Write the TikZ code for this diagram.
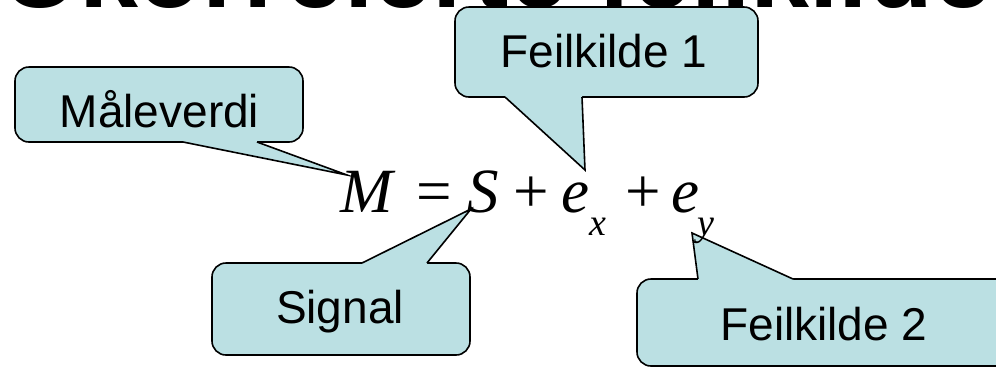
\documentclass[tikz,border=0pt]{standalone}
\usepackage{fontspec}
\setmainfont{Liberation Sans}
\newfontfamily\eqserif{Liberation Serif}
\usepackage{xcolor}
\definecolor{accent}{RGB}{187,224,227}
\usetikzlibrary{calc}
\tikzset{
  bubble/.style={draw=black,line width=1.6pt,rounded corners=14pt,fill=accent,%
    inner sep=0pt,outer sep=0pt},
  bubbletext/.style={font=\fontsize{46}{50}\selectfont,inner sep=0pt,anchor=base},
  tail/.style={draw=black,line width=1.6pt,line join=miter,miter limit=25},
  eqsym/.style={font=\eqserif\fontsize{63}{66}\selectfont,inner sep=0pt,anchor=base west},
  eqvar/.style={eqsym,font=\eqserif\itshape\fontsize{63}{66}\selectfont},
  eqsub/.style={eqsym,font=\eqserif\itshape\fontsize{38}{40}\selectfont},
}
\begin{document}
\begin{tikzpicture}[x=1pt,y=-1pt]
\clip (0,0) rectangle (996,368);
% title, only its lower edge is inside the frame
\node[font=\fontsize{106}{110}\selectfont\bfseries,inner sep=0pt,anchor=base west] (title) at (2.3,7.5) {Ukorrelerte feilkilder};

% tips of the callouts
\coordinate (tM) at (347,175);
\coordinate (t1) at (585,170);
\coordinate (tS) at (471,209);
\coordinate (t2) at (692,233);

% Maaleverdi
\node[bubble,minimum width=288pt,minimum height=75pt] (maal) at (159,104.5) {};
\fill[accent] ($(maal.south west)+(168,-2)$) -- ($(maal.south west)+(168,0)$) -- (tM)
  -- ($(maal.south west)+(242,0)$) -- ($(maal.south west)+(242,-2)$) -- cycle;
\draw[tail] ($(maal.south west)+(168,0)$) -- (tM) -- ($(maal.south west)+(242,0)$);
\node[bubbletext] (maaltxt) at (159.5,127) {Måleverdi};

% Feilkilde 1
\node[bubble,minimum width=303pt,minimum height=90pt] (feil1) at (606.5,52) {};
\fill[accent] ($(feil1.south west)+(50,-2)$) -- ($(feil1.south west)+(50,0)$) -- (t1)
  -- ($(feil1.south west)+(127,0)$) -- ($(feil1.south west)+(127,-2)$) -- cycle;
\draw[tail] ($(feil1.south west)+(50,0)$) -- (t1) -- ($(feil1.south west)+(127,0)$);
\node[bubbletext] (feil1txt) at (604,67) {Feilkilde 1};

% Signal
\node[bubble,minimum width=258pt,minimum height=92pt] (sig) at (341,309) {};
\fill[accent] ($(sig.north west)+(150,2)$) -- ($(sig.north west)+(150,0)$) -- (tS)
  -- ($(sig.north west)+(215,0)$) -- ($(sig.north west)+(215,2)$) -- cycle;
\draw[tail] ($(sig.north west)+(150,0)$) -- (tS) -- ($(sig.north west)+(215,0)$);
\node[bubbletext] (sigtxt) at (340,323) {Signal};

% Feilkilde 2
\node[bubble,minimum width=374pt,minimum height=87pt] (feil2) at (824,322.5) {};
\fill[accent] ($(feil2.north west)+(61,2)$) -- ($(feil2.north west)+(61,0)$) -- (t2)
  -- ($(feil2.north west)+(156,0)$) -- ($(feil2.north west)+(156,2)$) -- cycle;
\draw[tail] ($(feil2.north west)+(61,0)$) -- (t2) -- ($(feil2.north west)+(156,0)$);
\node[bubbletext] (feil2txt) at (824,340) {Feilkilde 2};

% equation
\node[eqvar] (M) at (340,212) {M};
\node[eqsym] (eq) at (416,212) {=};
\node[eqvar] (S) at (467,212) {S};
\node[eqsym] (p1) at (513,212) {+};
\node[eqvar] (ex) at (561,212) {e};
\node[eqsub] (x) at (589,235) {x};
\node[eqsym] (p2) at (625,212) {+};
\node[eqvar] (ey) at (671,212) {e};
\node[eqsub] (y) at (697,235) {y};
\end{tikzpicture}
\end{document}
